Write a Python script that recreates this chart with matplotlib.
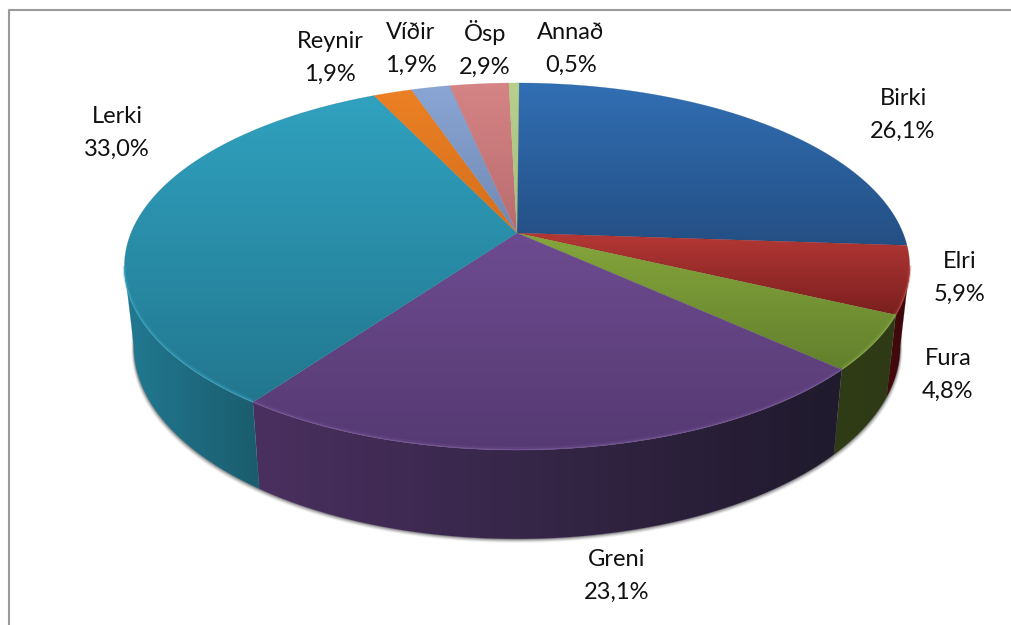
import numpy as np
import matplotlib

matplotlib.use("Agg")
import matplotlib.pyplot as plt
from matplotlib.colors import to_rgb
from matplotlib.patches import Polygon

plt.rcParams["font.family"] = ["Lato", "DejaVu Sans"]

# species and their share of the total, clockwise from 12 o'clock
species = ["Birki", "Elri", "Fura", "Greni", "Lerki", "Reynir", "Víðir", "Ösp", "Annað"]
shares = [26.1, 5.9, 4.8, 23.1, 33.0, 1.9, 1.9, 2.9, 0.5]

top_light = ["#316fb4", "#b43835", "#86a63c", "#6e4b91", "#30a2c0", "#ec8024", "#8aa6d4", "#d68485", "#b8d08c"]
top_dark = ["#244f84", "#7a1f1e", "#62802c", "#553a72", "#22778f", "#d46f1c", "#7088b4", "#b86c6e", "#a5be80"]
side_left = ["#1c3c60", "#45090d", "#303c16", "#4a3060", "#217a92", "#a05a14", "#50658a", "#8a4f50", "#70884c"]
side_right = ["#1c3c60", "#3a0a0c", "#2e3a15", "#1f1a2c", "#1b5c6e", "#a05a14", "#50658a", "#8a4f50", "#70884c"]

label_pos = [(903, 115), (960, 278), (948, 375), (617, 576), (117, 133), (330, 58), (411, 49), (485, 49), (571, 49)]

# pie geometry in image pixels, a tilted disc seen in perspective
cx, cy = 517.0, 233.0
bx, by, persp = 386.0, 177.4, 0.1826
depth, shrink_x, stretch_y = 78.0, 0.976, 1.05
# the wall is only seen between the two silhouette points of the rim
visible_from = np.degrees(np.arccos(-persp))
visible_to = 360.0 - visible_from


def rim(deg):
    a = np.radians(deg)
    den = 1 + persp * np.cos(a)
    return cx + bx * np.sin(a) / den, cy - by * np.cos(a) / den


def floor_rim(deg):
    x, y = rim(deg)
    return cx + (x - cx) * shrink_x, cy + (y - cy) * stretch_y + depth


def gradient_fill(ax, pts, start, end, horizontal=False, zorder=2):
    pts = np.asarray(pts)
    clip = Polygon(pts, closed=True, facecolor="none", edgecolor="none", transform=ax.transData)
    ax.add_patch(clip)
    ramp = np.linspace(0, 1, 256)[:, None]
    colors = (1 - ramp) * np.array(to_rgb(start)) + ramp * np.array(to_rgb(end))
    img = colors[None, :, :] if horizontal else colors[:, None, :]
    x0, y0 = pts.min(axis=0)
    x1, y1 = pts.max(axis=0)
    im = ax.imshow(img, extent=(x0, x1, y1, y0), aspect="auto", interpolation="bilinear", zorder=zorder)
    im.set_clip_path(clip)
    # thin stroke to soften the jagged image clip
    ax.add_patch(Polygon(pts, closed=True, fill=False, edgecolor=(start if horizontal else end), linewidth=0.4, alpha=0.4, zorder=zorder))


fig = plt.figure(figsize=(10.11, 6.25), dpi=100)
ax = fig.add_axes([0, 0, 1, 1])

edges = np.concatenate(([0.0], np.cumsum(shares))) * 3.6

# soft drop shadow under the wall
front = np.linspace(visible_from, visible_to, 200)
fx, fy = floor_rim(front)
for off, alpha in zip([4.0, 3.0, 2.0, 1.0], [0.08, 0.14, 0.22, 0.3]):
    sx = cx + (fx - cx) * (1 + off * 0.0015)
    ax.fill(np.r_[sx, sx[::-1]], np.r_[fy + off, fy[::-1] - 30], color="#404040", alpha=alpha, linewidth=0, zorder=1)

# outer wall of each slice
for i in range(len(shares)):
    a0, a1 = max(edges[i], visible_from), min(edges[i + 1], visible_to)
    if a1 <= a0:
        continue
    arc = np.linspace(a0, a1, 80)
    tx, ty = rim(arc)
    bx2, by2 = floor_rim(arc)
    pts = np.c_[np.r_[tx, bx2[::-1]], np.r_[ty, by2[::-1]]]
    # wall shading runs from left to right on screen
    gradient_fill(ax, pts, side_left[i], side_right[i], horizontal=True, zorder=2)

# top face of each slice
for i in range(len(shares)):
    arc = np.linspace(edges[i], edges[i + 1], max(int(shares[i] * 8), 12))
    tx, ty = rim(arc)
    pts = np.c_[np.r_[cx, tx], np.r_[cy, ty]]
    gradient_fill(ax, pts, top_light[i], top_dark[i], zorder=3)

# bevel along the front of the rim
for i in range(len(shares)):
    arc = np.linspace(edges[i], edges[i + 1], 80)
    keep = (arc > visible_from) & (arc < visible_to)
    if keep.sum() < 2:
        continue
    tx, ty = rim(arc[keep])
    light = np.array(to_rgb(top_light[i]))
    ax.plot(tx, ty - 1.5, color=light, linewidth=2.5, alpha=0.3, zorder=4, solid_capstyle="butt")
    ax.plot(tx, ty - 0.5, color=light * 0.8 + 0.2, linewidth=0.9, alpha=0.4, zorder=4, solid_capstyle="butt")

for name, share, (lx, ly) in zip(species, shares, label_pos):
    pct = f"{share:.1f}%".replace(".", ",")
    ax.text(lx, ly, f"{name}\n{pct}", ha="center", va="center", fontsize=17, color="#111111", linespacing=1.72, zorder=6)

# chart frame, only left and top lie inside the crop
ax.plot([8.5, 8.5, 1011], [625, 9.5, 9.5], color="#9a9a9a", linewidth=1.5, zorder=5)

ax.set_xlim(0, 1011)
ax.set_ylim(625, 0)
ax.axis("off")
fig.savefig("out.png", dpi=100, facecolor="white")
plt.close(fig)
